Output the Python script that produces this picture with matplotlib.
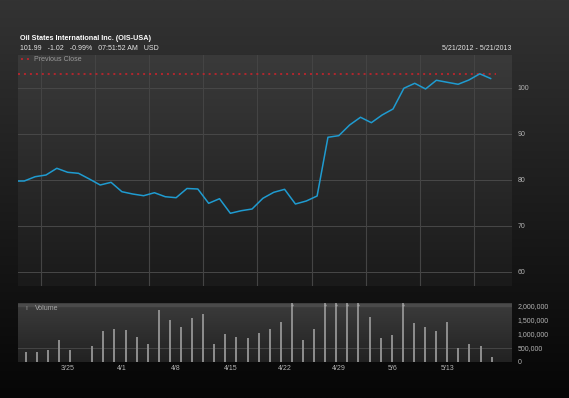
import numpy as np
import matplotlib.pyplot as plt
from matplotlib.colors import LinearSegmentedColormap

plt.rcParams['font.family'] = ['Liberation Sans', 'DejaVu Sans']

# daily close, trading-day index -1..43 (index -1 only shows as the stub at the left edge)
price = [79.7, 79.72, 80.65, 81.02, 82.48, 81.61, 81.39, 80.15, 78.85, 79.43,
         77.39, 76.89, 76.52, 77.17, 76.3, 76.09, 78.09, 77.98, 74.87, 75.87,
         72.7, 73.26, 73.63, 75.96, 77.26, 77.91, 74.72, 75.37, 76.46, 89.22,
         89.57, 91.89, 93.57, 92.39, 94.07, 95.37, 99.87, 100.95, 99.72, 101.61,
         101.17, 100.74, 101.67, 103.01, 101.99]
prev_close = 103.01

# daily volume in millions (slot 5 has no bar, the tall ones run off the top)
volume = [0.35, 0.35, 0.41, 0.78, 0.41, 0, 0.56, 1.09, 1.18, 1.15,
          0.89, 0.63, 1.85, 1.51, 1.24, 1.57, 1.72, 0.63, 1.01, 0.89,
          0.85, 1.05, 1.17, 1.44, 2.6, 0.78, 1.17, 3.1, 2.5, 2.4,
          2.3, 1.61, 0.87, 0.95, 2.2, 1.38, 1.24, 1.09, 1.43, 0.49,
          0.63, 0.57, 0.18]

date_labels = ['3/25', '4/1', '4/8', '4/15', '4/22', '4/29', '5/6', '5/13']
price_ticks = [60, 70, 80, 90, 100]
vol_ticks = [0, 500000, 1000000, 1500000, 2000000]
vol_tick_labels = ['0', '500,000', '1,000,000', '1,500,000', '2,000,000']

W, H = 569, 398


def gradient(ax, top, bottom):
    cmap = LinearSegmentedColormap.from_list('g', [bottom, top])
    ax.imshow(np.linspace(1, 0, 256).reshape(-1, 1), cmap=cmap, aspect='auto',
              extent=[0, 1, 0, 1], transform=ax.transAxes, zorder=0,
              interpolation='bilinear')


def fx(px):
    return px / W


def fy(py):
    return 1 - py / H


fig = plt.figure(figsize=(W / 100, H / 100), dpi=100)

bg = fig.add_axes([0, 0, 1, 1], zorder=-10)
bg.axis('off')
gradient(bg, '#333333', '#060606')

# ---- price panel
ax = fig.add_axes([fx(18), fy(286), fx(512) - fx(18), fy(55) - fy(286)])
gradient(ax, '#3a3a3a', '#1a1a1a')
for s in ax.spines.values():
    s.set_visible(False)

x = np.arange(-1, len(price) - 1)
xlim = (-0.58, 44.97)

for v in price_ticks:
    ax.axhline(v, color='#484848', lw=0.7, zorder=1)
for g in np.arange(1.5, 42, 5):
    ax.axvline(g, color='#444444', lw=0.8, zorder=1)

ax.plot([xlim[0], 43.5], [prev_close, prev_close], color='#d3212b', lw=1.1,
        dashes=(1.3, 2.6), zorder=2)
ax.plot(x, price, color='#1f9bd0', lw=1.1, zorder=3)

ax.set_xlim(xlim)
ax.set_ylim(56.9, 107.1)
ax.set_xticks([])
ax.yaxis.tick_right()
ax.set_yticks(price_ticks)
ax.tick_params(axis='y', length=0, pad=4, labelsize=5, labelcolor='#b4b4b4')

# ---- volume panel
vax = fig.add_axes([fx(18), fy(362), fx(512) - fx(18), fy(303) - fy(362)])
gradient(vax, '#3c3c3c', '#222222')
for s in vax.spines.values():
    s.set_visible(False)

vol = np.array(volume) * 1e6
vx = np.linspace(0.13, 43.09, len(vol))
vmax = 2.1e6
vax.axhline(500000, color='#454545', lw=0.7, zorder=1)
vax.axhline(2.04e6, color='#4a4a4a', lw=2.5, zorder=1)
vax.vlines(vx[vol > 0], 0, vol[vol > 0], lw=1.4, color='#8e8e8e', zorder=2)
clipped = vol > vmax
vax.plot(vx[clipped], np.full(clipped.sum(), 2.04e6), 'o', ms=1.6, mew=0,
         color='#a0a0a0', zorder=3)

vax.set_xlim(xlim)
vax.set_ylim(0, vmax)
vax.yaxis.tick_right()
vax.set_yticks(vol_ticks)
vax.set_yticklabels(vol_tick_labels)
vax.set_xticks(np.arange(4, 40, 5))
vax.set_xticklabels(date_labels)
vax.tick_params(axis='y', length=0, pad=4, labelsize=5, labelcolor='#b4b4b4')
vax.tick_params(axis='x', length=0, pad=2.5, labelsize=5, labelcolor='#b4b4b4')

# ---- header texts
fig.text(fx(20), fy(38.5), 'Oil States International Inc. (OIS-USA)', color='white',
         fontsize=5.2, fontweight='bold', va='center')
fig.text(fx(20), fy(48.5), '101.99   -1.02   -0.99%   07:51:52 AM   USD',
         color='#e6e6e6', fontsize=5, va='center')
fig.text(fx(511), fy(48.5), '5/21/2012 - 5/21/2013', color='#e6e6e6', fontsize=5,
         va='center', ha='right')
fig.lines.append(plt.Line2D([fx(21), fx(29)], [fy(59.3), fy(59.3)],
                            transform=fig.transFigure, color='#d3212b', lw=1.1,
                            dashes=(1.3, 2.6)))
fig.text(fx(34.5), fy(59.3), 'Previous Close', color='#9a9a9a', fontsize=5, va='center')
fig.text(fx(25), fy(309), 'ı', color='#9a9a9a', fontsize=5, va='center')
fig.text(fx(35), fy(309), 'Volume', color='#a8a8a8', fontsize=5, va='center')

fig.savefig('out.png', dpi=100)
